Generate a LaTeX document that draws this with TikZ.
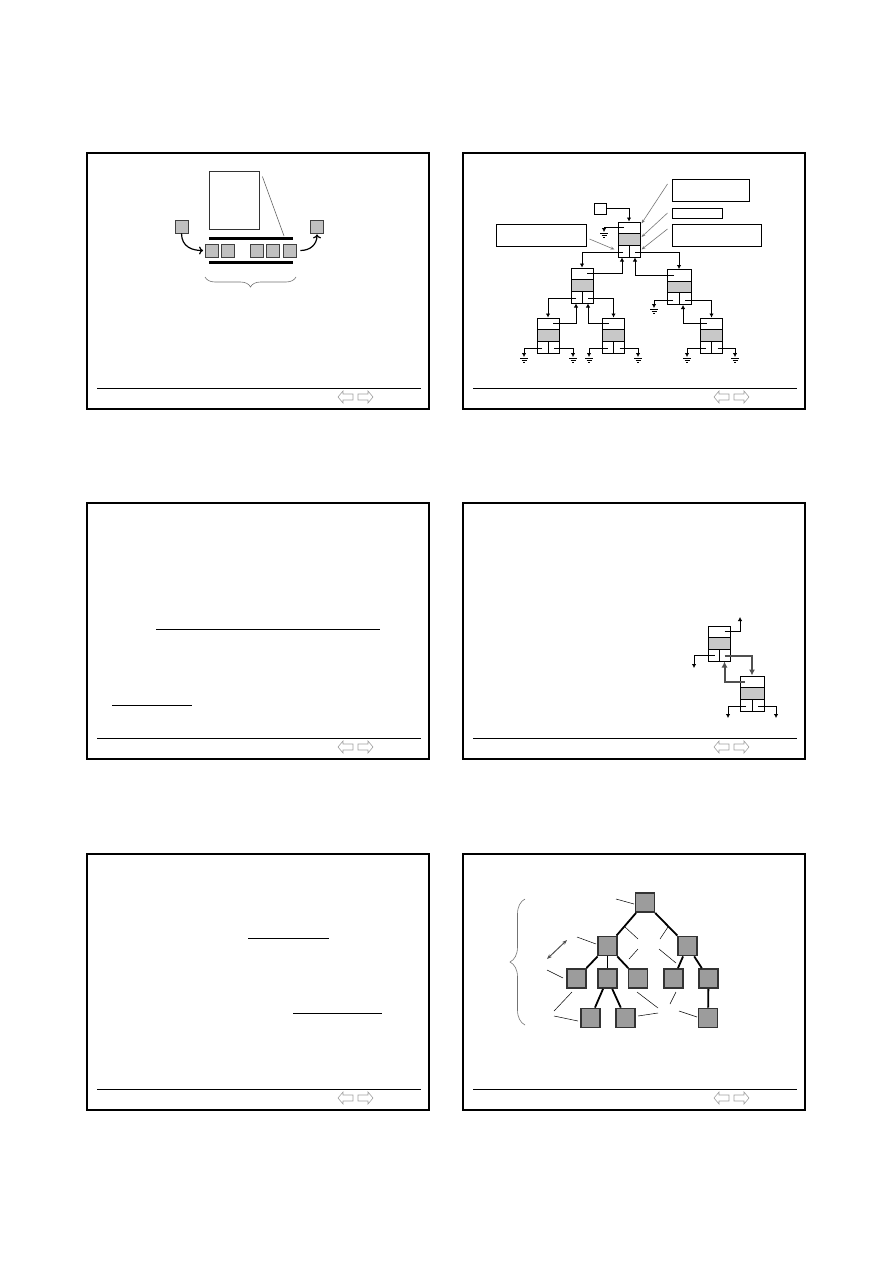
\documentclass[tikz,border=0pt]{standalone}
\usepackage{tikz}
\usetikzlibrary{arrows.meta,positioning,calc,decorations.pathreplacing}
\definecolor{keygray}{HTML}{C8C8C8}
\definecolor{boxgray}{HTML}{C0C0C0}
\definecolor{treegray}{HTML}{9C9C9C}
\definecolor{navgray}{HTML}{A0A0A0}
\definecolor{leadgray}{HTML}{777777}
\definecolor{darkptr}{HTML}{505050}

\begin{document}
\begin{tikzpicture}[x=1pt, y=-1pt,
    frame/.style={draw, line width=2pt},
    footline/.style={line width=1pt},
    navarrow/.style={draw=navgray, line width=0.6pt},
    rail/.style={line width=3pt},
    item/.style={draw=black!75, fill=boxgray, line width=0.8pt, minimum size=13pt, inner sep=0pt},
    pagebox/.style={draw=black!80, line width=0.8pt, minimum width=50pt, minimum height=58pt, inner sep=0pt},
    curvearr/.style={-{To[length=4pt,width=8pt]}, line width=1.2pt},
    curly/.style={draw=black!55, line width=0.6pt, decorate, decoration={brace, amplitude=#1}},
    recnode/.style={draw, line width=1pt, minimum width=22pt, minimum height=35pt, inner sep=0pt,
        path picture={
          \fill[keygray] ([yshift=5.8pt]path picture bounding box.west) rectangle ([yshift=-5.8pt]path picture bounding box.east);
          \draw[line width=1pt] ([yshift=5.8pt]path picture bounding box.west) -- ([yshift=5.8pt]path picture bounding box.east)
            ([yshift=-5.8pt]path picture bounding box.west) -- ([yshift=-5.8pt]path picture bounding box.east)
            ([yshift=-5.8pt]path picture bounding box.center) -- (path picture bounding box.south);
        }},
    lblbox/.style={draw, line width=1pt, inner sep=0pt},
    ptr/.style={-{Latex[length=4pt,width=4.5pt]}, line width=1pt},
    fatptr/.style={-{Latex[length=6pt,width=6pt]}, line width=2pt, darkptr},
    callout/.style={-{Stealth[length=4pt,width=3pt]}, draw=leadgray, line width=0.6pt},
    uline/.style={line width=1pt},
    tnode/.style={draw=black!80, fill=treegray, line width=1.8pt, minimum size=19pt, inner sep=0pt},
    tedge/.style={line width=1.8pt},
    leader/.style={line width=0.5pt},
    levelarr/.style={{Stealth[length=5pt]}-{Stealth[length=5pt]}, darkptr, line width=1pt},
    earth/.pic={\draw[line width=1pt] (-4,1) -- (4,1) (-2.5,3) -- (2.5,3) (-1,5) -- (1,5);}
  ]
\fill[white] (0,0) rectangle (893,1263);
\useasboundingbox (0,0) rectangle (893,1263);

% the six slide frames
\foreach \dx/\dy in {0/0,376/0,0/350,376/350,0/701,376/701} {
  \begin{scope}[shift={(\dx,\dy)}]
    \draw[frame] (87,153) rectangle (429,409);
    \draw[footline] (97,388) -- (421,388);
    \draw[navarrow] (338,397) -- (343,391) -- (343,394) -- (353,394) -- (353,400) -- (343,400) -- (343,403) -- cycle;
    \draw[navarrow] (373,397) -- (368,391) -- (368,394) -- (358,394) -- (358,400) -- (368,400) -- (368,403) -- cycle;
  \end{scope}
}

% slide 1: buffer
\node[pagebox] (pg) at (234,200) {};
\draw[rail] (209,238) -- (293,238);
\draw[rail] (209,262) -- (293,262);
\coordinate (railtip) at (284,236);
\draw[draw=black!60, line width=0.6pt] ($(pg.north east)+(3,6)$) -- (railtip);
\foreach \i/\x in {1/212,2/227.5,3/257,4/272.5,5/289.5}
  \node[item] (q\i) at (\x,250.5) {};
\node[item] (qin) at (181.5,226.5) {};
\node[item] (qout) at (317,226.5) {};
\draw[curvearr] (qin.south) .. controls +(0,14) and +(-10,0) .. ($(q1.west)+(-2,0)$);
\draw[curvearr] ($(q5.east)+(4,0)$) .. controls +(10,0) and +(0,10) .. ($(qout.south)+(0,1)$);
\draw[curly=10pt, decoration={mirror}] (205,277) -- (296,277);

% slide 2: tree of records
\node[lblbox, minimum width=77pt, minimum height=22pt] (lblA) at (710.5,190) {};
\node[lblbox, minimum width=50pt, minimum height=10pt] (lblB) at (697,213) {};
\node[lblbox, minimum width=89pt, minimum height=22pt] (lblC) at (716.5,235) {};
\node[lblbox, minimum width=90pt, minimum height=22pt] (lblD) at (541,235) {};
\node[lblbox, minimum width=12pt, minimum height=11pt] (nilbox) at (600,208.5) {};

\node[recnode] (root) at (629,239.5) {};
\node[recnode] (lc) at (582,285.5) {};
\node[recnode, minimum width=24pt] (rc) at (679,287) {};
\node[recnode] (ll) at (548,335.5) {};
\node[recnode] (lr) at (613.5,335.5) {};
\node[recnode] (rr) at (711.5,335.5) {};

\coordinate (g0) at (604,232);
\coordinate (g1) at (654,308);
\coordinate (g2) at (524,357);
\coordinate (g3) at (573,357);
\coordinate (g4) at (589,357);
\coordinate (g5) at (638,357);
\coordinate (g6) at (687,357);
\coordinate (g7) at (735,357);
\foreach \g in {0,...,7}
  \pic at (g\g) {earth};

\draw[ptr] (nilbox.east) -| (root.north);
\draw[ptr] ($(root.north)+(-5,6)$) -| (g0);
\draw[ptr] ($(root.south)+(-6,-5)$) -| (lc.north);
\draw[ptr] ($(root.south)+(6,-5)$) -| (rc.north);
\draw[ptr] ($(lc.north)+(5,6)$) -| ($(root.south)+(-7,0)$);
\draw[ptr] ($(rc.north)+(-5,6)$) -| ($(root.south)+(6,0)$);
\draw[ptr] ($(lc.south)+(-6,-5)$) -| (ll.north);
\draw[ptr] ($(lc.south)+(6,-5)$) -| (lr.north);
\draw[ptr] ($(ll.north)+(5,6)$) -| ($(lc.south)+(-6,0)$);
\draw[ptr] ($(lr.north)+(-5,6)$) -| ($(lc.south)+(6,0)$);
\draw[ptr] ($(rc.south)+(-6,-5)$) -| (g1);
\draw[ptr] ($(rc.south)+(6,-5)$) -| (rr.north);
\draw[ptr] ($(rr.north)+(-5,6)$) -| ($(rc.south)+(4,0)$);
\foreach \n/\a/\b in {ll/2/3, lr/4/5, rr/6/7} {
  \draw[ptr] ($(\n.south)+(-6,-5)$) -| (g\a);
  \draw[ptr] ($(\n.south)+(6,-5)$) -| (g\b);
}

\draw[callout] ($(lblA.west)+(-4,-6)$) -- ($(root.north east)+(1,2)$);
\draw[callout] ($(lblB.west)+(-4,0)$) -- ($(root.east)+(1,-2.5)$);
\draw[callout] ($(lblC.west)+(-4,-6)$) -- ($(root.south east)+(1,-8)$);
\draw[callout] ($(lblD.east)+(3,4)$) -- ($(root.south west)+(-3,-8)$);

% slide 3
\draw[uline] (156,629) -- (380,629);
\draw[uline] (112,705) -- (192,705);

% slide 4: rotation step
\node[recnode] (pn) at (719.5,643.5) {};
\node[recnode, minimum width=24pt] (qn) at (752,693.5) {};
\coordinate (pup) at (740,617);
\coordinate (pdn) at (694,668);
\coordinate (qdl) at (728,718);
\coordinate (qdr) at (776,718);
\draw[ptr] ($(pn.north)+(5,6)$) -| (pup);
\draw[ptr] ($(pn.south)+(-5,-6)$) -| (pdn);
\draw[fatptr] ($(pn.south)+(5,-6)$) -| (qn.north);
\draw[fatptr] ($(qn.north)+(-7,6)$) -| ($(pn.south)+(5,0)$);
\draw[ptr] ($(qn.south)+(-6,-5)$) -| (qdl);
\draw[ptr] ($(qn.south)+(6,-5)$) -| (qdr);

% slide 5
\draw[uline] (248,938) -- (329,938);
\draw[uline] (293,1013) -- (382,1013);

% slide 6: tree levels
\node[tnode] (R) at (645,902.5) {};
\node[tnode] (A) at (607.5,946) {};
\node[tnode] (B) at (687.5,946) {};
\node[tnode] (C1) at (576.5,978.5) {};
\node[tnode] (C2) at (607.5,978.5) {};
\node[tnode] (C3) at (638,978.5) {};
\node[tnode] (C4) at (673.5,978.5) {};
\node[tnode] (C5) at (708.5,978.5) {};
\node[tnode] (D1) at (590.5,1018) {};
\node[tnode] (D2) at (625.5,1018) {};
\node[tnode] (D3) at (708,1018) {};
\foreach \a/\b in {R/A, R/B, A/C1, A/C2, A/C3, B/C4, B/C5, C2/D1, C2/D2, C5/D3}
  \draw[tedge] (\a) -- (\b);

\foreach \xa/\ya/\xb/\yb in {616/899/634/904, 625/927/638/939, 668/927/660/939, 577/937/596/944,
    638/949/629/959, 659/949/676/963, 547/970/563/978, 572/992/554/1011, 637/992/658/1008,
    676/992/670/1004, 554/1016/578/1021, 638/1016/658/1013, 679/1011/697/1017}
  \draw[leader] (\xa,\ya) -- (\xb,\yb);

\coordinate (lvA) at (547,959);
\coordinate (lvB) at (567,940);
\draw[levelarr] (lvA) -- (lvB);
\draw[curly=15pt] (525,1025) -- (525,899);

\end{tikzpicture}
\end{document}
